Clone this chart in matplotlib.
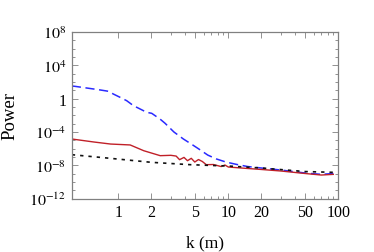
import matplotlib
matplotlib.use("Agg")
import matplotlib.pyplot as plt
from matplotlib.ticker import FixedLocator, NullFormatter, FixedFormatter

plt.rcParams['font.family'] = ['Liberation Serif', 'DejaVu Serif']
plt.rcParams['mathtext.fontset'] = 'stix'

# Blue dashed series
k_blue = [0.377, 0.404, 0.658, 0.811, 0.90, 1.036, 1.19, 1.37, 1.575, 1.81, 2.01, 2.39,
          2.66, 3.2, 3.9, 4.6, 5.4, 6.5, 7.8, 9.5, 12, 15, 20, 30, 50, 70, 90]
p_blue = [33, 30, 12, 7.7, 3.6, 1.45, 0.57, 0.145, 0.058, 0.023, 0.0174, 3.6e-3,
          1.1e-3, 1e-4, 1.45e-5, 3.6e-6, 9e-7, 1.7e-7, 5.8e-8, 2.5e-8, 1.26e-8,
          7.2e-9, 4.8e-9, 2.75e-9, 1.2e-9, 8.3e-10, 1.05e-9]

# Red solid series
k_red = [0.377, 0.6, 0.85, 1.28, 1.7, 2.4, 3.0, 3.35, 3.6, 3.95, 4.25, 4.6, 4.95, 5.35,
         5.8, 6.3, 7.3, 8.6, 9.3, 10, 15, 20, 30, 50, 70, 90]
p_red = [1.45e-5, 6.3e-6, 3.6e-6, 2.8e-6, 5.7e-7, 1.45e-7, 1.6e-7, 1.3e-7, 4.8e-8, 9e-8,
         3.6e-8, 7e-8, 2.5e-8, 5e-8, 2.9e-8, 1.2e-8, 1.26e-8, 7.2e-9, 1.1e-8, 6.3e-9,
         4.2e-9, 3.2e-9, 2.1e-9, 1.05e-9, 6.9e-10, 8.3e-10]

# Black dotted series
k_black = [0.377, 0.85, 2.0, 4.5, 10, 20, 50, 90]
p_black = [1.9e-7, 6.9e-8, 2.3e-8, 1.2e-8, 8.3e-9, 4.8e-9, 1.8e-9, 1.45e-9]

x_major = [1, 2, 5, 10, 20, 50, 100]
x_labels = ['1', '2', '5', '10', '20', '50', '100']
x_minor = [3, 4, 6, 7, 8, 9, 30, 40, 60, 70, 80, 90]
y_major = [1e-12, 1e-8, 1e-4, 1, 1e4, 1e8]
y_labels = [r'$10^{-12}$', r'$10^{-8}$', r'$10^{-4}$', '1', r'$10^{4}$', r'$10^{8}$']
y_minor = [1e-11, 1e-10, 1e-9, 1e-7, 1e-6, 1e-5, 1e-3, 1e-2, 1e-1, 10, 100, 1e3,
           1e5, 1e6, 1e7]

fig = plt.figure(figsize=(3.74, 2.53), dpi=100)
ax = fig.add_axes([0.192, 0.2107, 0.7126, 0.6589])

ax.plot(k_blue, p_blue, color='#2a2aff', lw=1.1, dashes=(6, 3))
ax.plot(k_red, p_red, color='#c02028', lw=1.0)
ax.plot(k_black, p_black, color='#111111', lw=1.2, dashes=(2, 3))

ax.set_xscale('log')
ax.set_yscale('log')
ax.set_xlim(0.377, 100)
ax.set_ylim(1e-12, 1e8)

ax.xaxis.set_major_locator(FixedLocator(x_major))
ax.xaxis.set_major_formatter(FixedFormatter(x_labels))
ax.xaxis.set_minor_locator(FixedLocator(x_minor))
ax.xaxis.set_minor_formatter(NullFormatter())
ax.yaxis.set_major_locator(FixedLocator(y_major))
ax.yaxis.set_major_formatter(FixedFormatter(y_labels))
ax.yaxis.set_minor_locator(FixedLocator(y_minor))
ax.yaxis.set_minor_formatter(NullFormatter())

for s in ax.spines.values():
    s.set_color('#808080')
    s.set_linewidth(0.9)
ax.tick_params(which='both', direction='in', top=True, right=True, color='#808080',
               labelsize=11.5, width=0.6)
ax.tick_params(which='major', length=4, pad=4)
ax.tick_params(which='minor', length=2)

ax.set_xlabel('k (m)', fontsize=12.5, labelpad=10)
ax.set_ylabel('Power', fontsize=13.5, labelpad=8)

fig.savefig('out.png', dpi=100)
